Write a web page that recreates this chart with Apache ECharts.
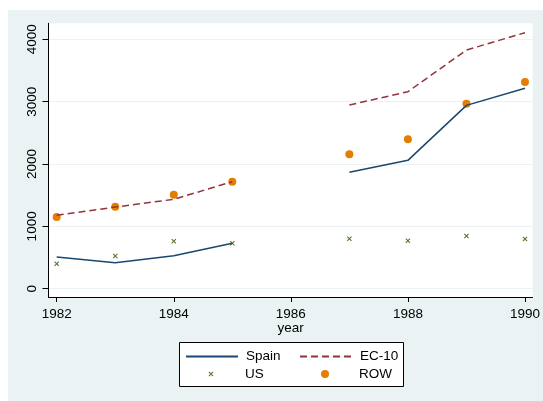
<!DOCTYPE html>
<html><head><meta charset="utf-8">
<script src="https://cdn.jsdelivr.net/npm/echarts@6/dist/echarts.min.js"></script>
<style>html,body{margin:0;padding:0;background:#fff}#c{width:543px;height:401px}</style>
</head><body><div id="c"></div>
<script>
var years = [1982, 1983, 1984, 1985, 1986, 1987, 1988, 1989, 1990];
var spain = [508, 417, 530, 728, null, 1867, 2059, 2941, 3214];
var ec10  = [1177, 1310, 1434, 1716, null, 2946, 3160, 3828, 4106];
var us    = [401, 524, 760, 728, null, 802, 770, 845, 797];
var row   = [1150, 1315, 1508, 1716, null, 2155, 2396, 2967, 3315];
var xTicks = [1982, 1984, 1986, 1988, 1990];
var yTicks = [0, 1000, 2000, 3000, 4000];

function pairs(v){ return years.map(function(y,i){ return [y, v[i] === null ? '-' : v[i]]; }); }

var FONT = '"Liberation Sans", Arial, sans-serif';
var chart = echarts.init(document.getElementById('c'), null, {renderer:'canvas'});
function lt(p){ return {fontFamily: FONT, fontSize: 13.5, color: '#000', padding: [0,0,0,p]}; }
var XPATH = 'path://M0,1.5L1.5,0L5,3.5L8.5,0L10,1.5L6.5,5L10,8.5L8.5,10L5,6.5L1.5,10L0,8.5L3.5,5Z';
chart.setOption({
  backgroundColor: '#fff',
  animation: false,
  graphic: [
    {type:'rect', shape:{x:8, y:10, width:540, height:395}, style:{fill:'#EAF2F3'}, z:-10, silent:true},
    {type:'rect', shape:{x:179.5, y:342.5, width:224, height:44}, style:{fill:'#fff', stroke:'#000', lineWidth:1}, z:-5, silent:true}
  ],
  grid: {left: 48.5, right: 8, top: 23.3, bottom: 104, show: true, backgroundColor: '#fff', borderWidth: 0, containLabel: false},
  xAxis: {
    type: 'value', min: 1981.86, max: 1990.13,
    name: 'year', nameLocation: 'middle', nameGap: 24, nameMoveOverlap: false,
    nameTextStyle: {fontFamily: FONT, fontSize: 13.5, color: '#000'},
    axisLine: {show: true, onZero: false, lineStyle: {color: '#000', width: 1}},
    axisTick: {show: true, length: 5, customValues: xTicks, lineStyle: {color: '#000'}},
    axisLabel: {customValues: xTicks, fontFamily: FONT, fontSize: 13.5, color: '#000', margin: 10, formatter: function(v){return String(v);}},
    splitLine: {show: false}
  },
  yAxis: {
    type: 'value', min: -133, max: 4257,
    axisLine: {show: true, onZero: false, lineStyle: {color: '#000', width: 1}},
    axisTick: {show: true, length: 6, customValues: yTicks, lineStyle: {color: '#000'}},
    axisLabel: {customValues: yTicks, rotate: 90, fontFamily: FONT, fontSize: 13.5, color: '#000', margin: 9, formatter: function(v){return String(v);}},
    splitLine: {show: true, lineStyle: {color: '#EAF2F3', width: 1}}
  },
  legend: [
    {data: ['Spain'], left: 185, top: 349.5, padding: 0, itemWidth: 52, itemHeight: 12, itemStyle: {opacity: 0}, textStyle: lt(3)},
    {data: ['EC-10'], left: 299, top: 349.5, padding: 0, itemWidth: 53, itemHeight: 12, itemStyle: {opacity: 0}, textStyle: lt(2)},
    {data: ['US'], left: 208.5, top: 367, padding: 0, itemWidth: 5, itemHeight: 5, textStyle: lt(26.5)},
    {data: ['ROW'], left: 321, top: 367, padding: 0, itemWidth: 8, itemHeight: 8, textStyle: lt(25)}
  ],
  series: [
    {name: 'Spain', type: 'line', data: pairs(spain), showSymbol: false, symbol: 'none', connectNulls: false,
     lineStyle: {color: '#1a476f', width: 1.5}, itemStyle: {color: '#1a476f'}},
    {name: 'EC-10', type: 'line', data: pairs(ec10), showSymbol: false, symbol: 'none', connectNulls: false,
     lineStyle: {color: '#90353b', width: 1.5, type: [7, 4]}, itemStyle: {color: '#90353b'}},
    {name: 'US', type: 'scatter', data: pairs(us), symbol: XPATH, symbolSize: 5,
     itemStyle: {color: '#55752f', opacity: 1}},
    {name: 'ROW', type: 'scatter', data: pairs(row), symbol: 'circle', symbolSize: 8,
     itemStyle: {color: '#e37e00', opacity: 1}}
  ]
});
</script></body></html>
